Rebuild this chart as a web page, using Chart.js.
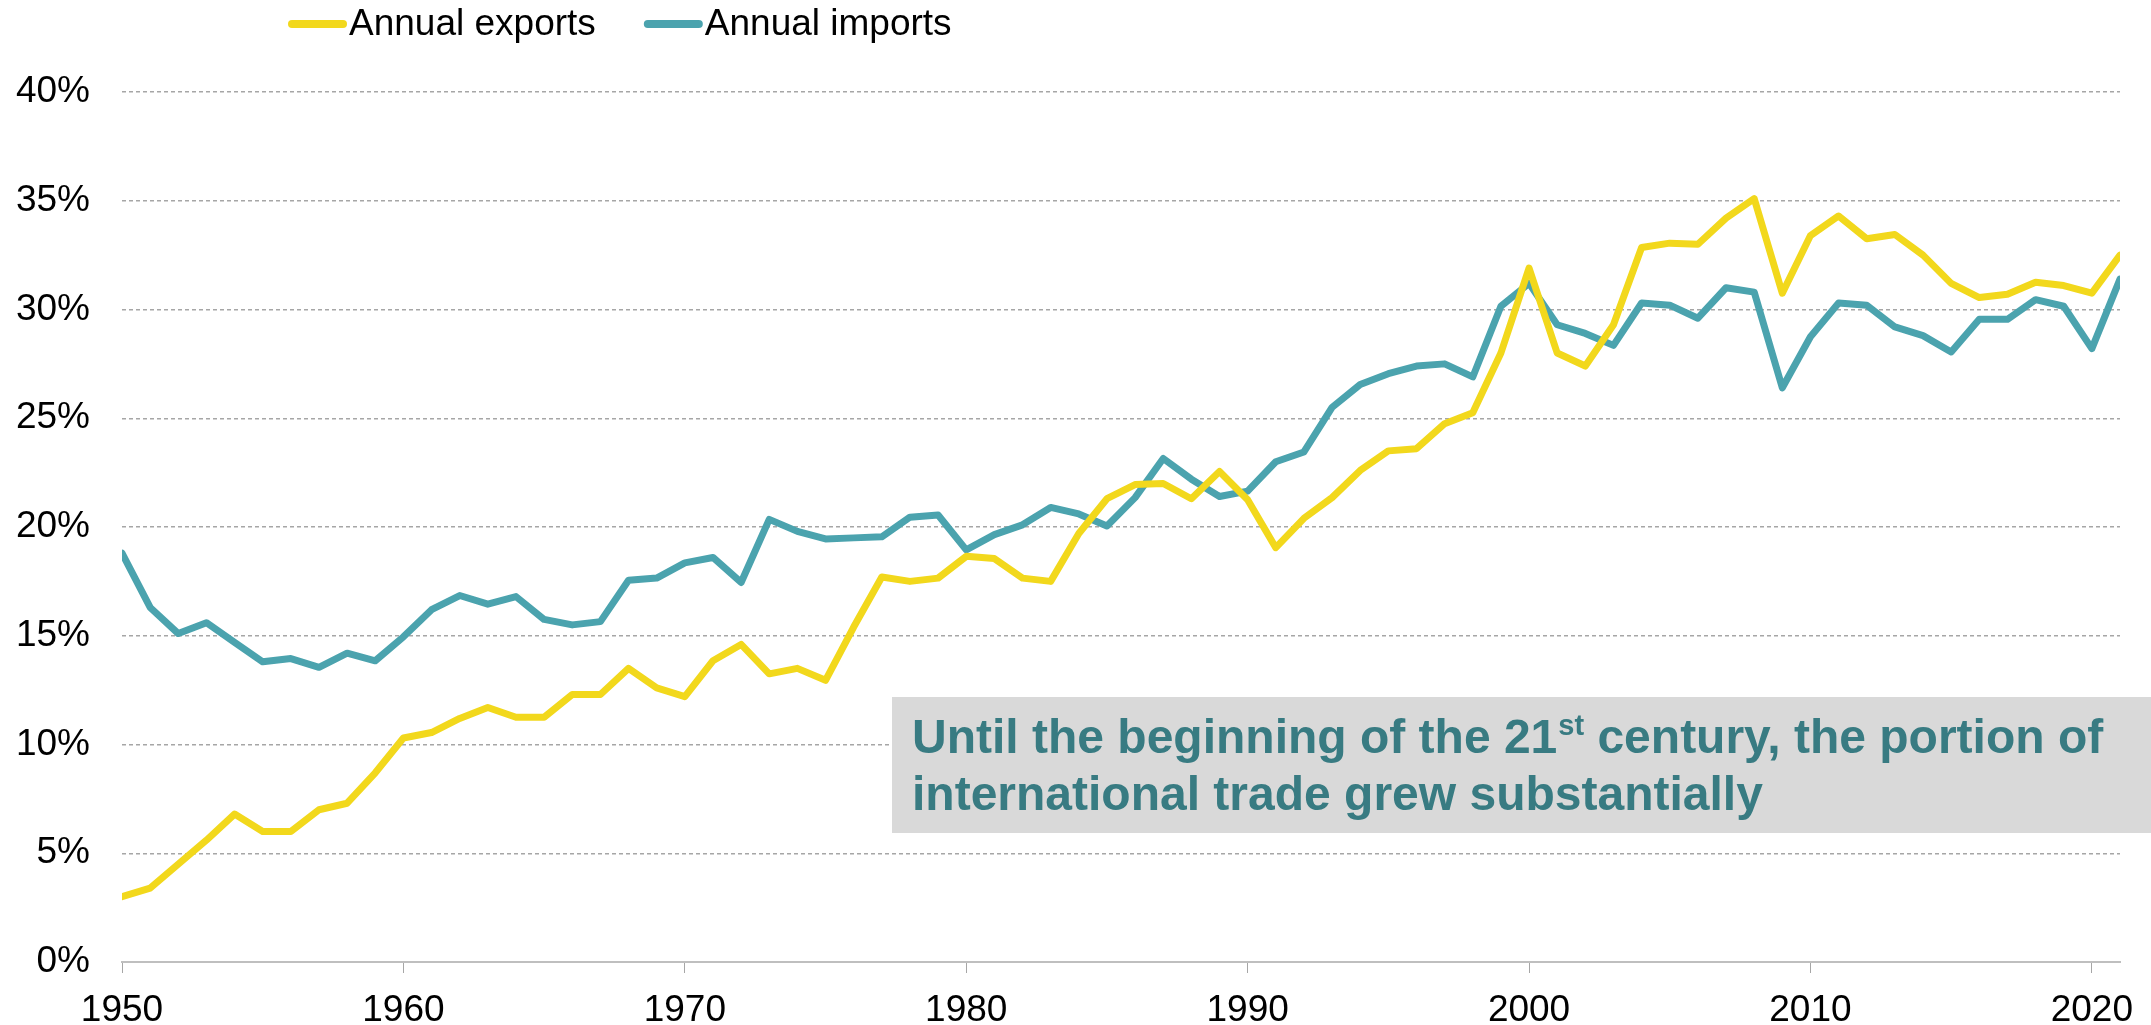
<!DOCTYPE html>
<html>
<head>
<meta charset="utf-8">
<script src="https://cdn.jsdelivr.net/npm/chart.js@4"></script>
<style>
  html, body { margin: 0; padding: 0; background: #fff; }
  #wrap { width: 2151px; height: 1025px; }
</style>
</head>
<body>
<div id="wrap"><canvas id="chart" width="2151" height="1025"></canvas></div>
<script>
// Years shown on the x axis
const years = [];
for (let y = 1950; y <= 2021; y++) years.push(y);

// Annual exports, %
const exportsPct = [
  3.0, 3.4, 4.5, 5.6, 6.8, 6.0, 6.0, 7.0, 7.3, 8.7,
  10.3, 10.55, 11.2, 11.7, 11.25, 11.25, 12.3, 12.3, 13.5, 12.6,
  12.2, 13.85, 14.6, 13.25, 13.5, 12.95, 15.4, 17.7, 17.5, 17.65,
  18.65, 18.55, 17.65, 17.5, 19.7, 21.3, 21.95, 22.0, 21.3, 22.55,
  21.25, 19.05, 20.4, 21.35, 22.6, 23.5, 23.6, 24.75, 25.25, 28.0,
  31.9, 28.0, 27.4, 29.3, 32.85, 33.05, 33.0, 34.2, 35.1, 30.75,
  33.4, 34.3, 33.25, 33.45, 32.5, 31.2, 30.55, 30.7, 31.25, 31.1,
  30.75, 32.5
];

// Annual imports, %
const importsPct = [
  18.8, 16.3, 15.1, 15.6, 14.7, 13.8, 13.95, 13.55, 14.2, 13.85,
  14.95, 16.2, 16.85, 16.45, 16.8, 15.75, 15.5, 15.65, 17.55, 17.65,
  18.35, 18.6, 17.45, 20.35, 19.8, 19.45, 19.5, 19.55, 20.45, 20.55,
  18.95, 19.65, 20.1, 20.9, 20.6, 20.05, 21.35, 23.15, 22.2, 21.4,
  21.65, 23.0, 23.45, 25.5, 26.55, 27.05, 27.4, 27.5, 26.9, 30.15,
  31.2, 29.3, 28.9, 28.35, 30.3, 30.2, 29.6, 31.0, 30.8, 26.4,
  28.75, 30.3, 30.2, 29.2, 28.8, 28.05, 29.55, 29.55, 30.45, 30.15,
  28.2, 31.4
];

// Tick labels
const xTicks = [1950, 1960, 1970, 1980, 1990, 2000, 2010, 2020];
const yTicks = [0, 5, 10, 15, 20, 25, 30, 35, 40];

const seriesNames = ['Annual exports', 'Annual imports'];
const seriesColors = ['#F2D81C', '#4BA3AE'];

const noteLine1 = ['Until the beginning of the 21', 'st', ' century, the portion of'];
const noteLine2 = 'international trade grew substantially';

const FONT = "'Liberation Sans', Arial, sans-serif";

function toPoints(vals) {
  return years.map((yr, i) => ({ x: yr, y: vals[i] }));
}

// legend drawn Excel-like: line sample right next to the text
const legendPlugin = {
  id: 'excelLegend',
  afterDraw(chart) {
    const ctx = chart.ctx;
    ctx.save();
    ctx.font = '37px ' + FONT;
    ctx.textBaseline = 'alphabetic';
    let x = 288;
    chart.data.datasets.forEach(ds => {
      ctx.strokeStyle = ds.borderColor;
      ctx.lineWidth = 8;
      ctx.lineCap = 'round';
      ctx.beginPath();
      ctx.moveTo(x + 4, 24);
      ctx.lineTo(x + 55, 24);
      ctx.stroke();
      ctx.fillStyle = '#000';
      ctx.fillText(ds.label, x + 61, 35);
      x += 61 + ctx.measureText(ds.label).width + 48;
    });
    ctx.restore();
  }
};

// grey note box
const notePlugin = {
  id: 'noteBox',
  afterDatasetsDraw(chart) {
    const ctx = chart.ctx;
    ctx.save();
    ctx.fillStyle = '#D9D9D9';
    ctx.fillRect(892, 697, 2151 - 892, 136);
    ctx.fillStyle = '#387B82';
    ctx.textBaseline = 'alphabetic';
    let x = 912;
    ctx.font = 'bold 48px ' + FONT;
    ctx.fillText(noteLine1[0], x, 753);
    x += ctx.measureText(noteLine1[0]).width + 1;
    ctx.font = 'bold 29px ' + FONT;
    ctx.fillText(noteLine1[1], x, 735);
    x += ctx.measureText(noteLine1[1]).width;
    ctx.font = 'bold 48px ' + FONT;
    ctx.fillText(noteLine1[2], x, 753);
    ctx.fillText(noteLine2, 912, 810);
    ctx.restore();
  }
};

new Chart(document.getElementById('chart'), {
  type: 'line',
  data: {
    datasets: [
      {
        label: seriesNames[0],
        data: toPoints(exportsPct),
        borderColor: seriesColors[0],
        backgroundColor: seriesColors[0]
      },
      {
        label: seriesNames[1],
        data: toPoints(importsPct),
        borderColor: seriesColors[1],
        backgroundColor: seriesColors[1]
      }
    ]
  },
  options: {
    responsive: false,
    animation: false,
    devicePixelRatio: 1,
    layout: { padding: { top: 92, right: 31, left: 0, bottom: 0 } },
    elements: {
      line: { borderWidth: 7, tension: 0, borderJoinStyle: 'round', borderCapStyle: 'round' },
      point: { radius: 0, hoverRadius: 0 }
    },
    plugins: {
      legend: { display: false },
      tooltip: { enabled: false }
    },
    scales: {
      x: {
        type: 'linear',
        min: 1950,
        max: 2021,
        afterBuildTicks: s => { s.ticks = xTicks.map(v => ({ value: v })); },
        afterFit: s => { s.height = 63; },
        grid: {
          drawOnChartArea: false,
          drawTicks: true,
          tickLength: 11,
          tickColor: '#A6A6A6',
          color: '#A6A6A6'
        },
        border: { display: true, color: '#BFBFBF', width: 2 },
        ticks: {
          color: '#000',
          padding: 16,
          maxRotation: 0,
          font: { family: FONT, size: 37 },
          callback: v => String(v)
        }
      },
      y: {
        min: 0,
        max: 40,
        afterBuildTicks: s => { s.ticks = yTicks.map(v => ({ value: v })); },
        afterFit: s => { s.width = 122; },
        grid: {
          color: '#A6A6A6',
          lineWidth: 1.5,
          drawTicks: false
        },
        border: { display: false, dash: [4, 3] },
        ticks: {
          color: '#000',
          padding: 32,
          font: { family: FONT, size: 37 },
          callback: v => v + '%'
        }
      }
    }
  },
  plugins: [legendPlugin, notePlugin]
});
</script>
</body>
</html>
